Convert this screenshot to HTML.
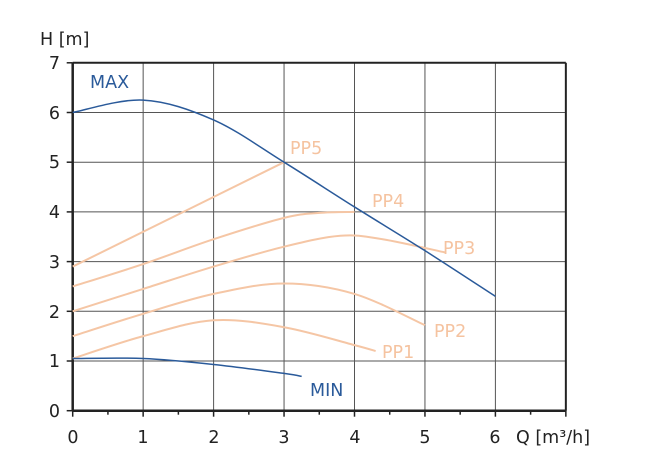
<!DOCTYPE html>
<html><head><meta charset="utf-8"><style>
html,body{margin:0;padding:0;background:#fff;}
svg{display:block;font-family:"DejaVu Sans","Liberation Sans",sans-serif;}
</style></head><body>
<svg id="s" width="654" height="467" viewBox="0 0 654 467">
<g id="grid" stroke="#333" stroke-width="1"></g>
<g id="curves" fill="none"></g>
<g font-size="17.5" fill="#222">
<text x="40" y="45">H [m]</text>
<text x="60" y="69" text-anchor="end">7</text>
<text x="60" y="119" text-anchor="end">6</text>
<text x="60" y="168" text-anchor="end">5</text>
<text x="60" y="218" text-anchor="end">4</text>
<text x="60" y="268" text-anchor="end">3</text>
<text x="60" y="318" text-anchor="end">2</text>
<text x="60" y="367" text-anchor="end">1</text>
<text x="60" y="417" text-anchor="end">0</text>
<text x="73" y="443" text-anchor="middle">0</text>
<text x="143" y="443" text-anchor="middle">1</text>
<text x="214" y="443" text-anchor="middle">2</text>
<text x="284" y="443" text-anchor="middle">3</text>
<text x="355" y="443" text-anchor="middle">4</text>
<text x="425" y="443" text-anchor="middle">5</text>
<text x="495" y="443" text-anchor="middle">6</text>
<text x="516" y="443">Q [m³/h]</text>
</g>
<g font-size="17.5">
<text x="90" y="88" fill="#2a5a9a">MAX</text>
<text x="310" y="396" fill="#2a5a9a">MIN</text>
<text x="290" y="154" fill="#f5c3a0">PP5</text>
<text x="372" y="207" fill="#f5c3a0">PP4</text>
<text x="443" y="254" fill="#f5c3a0">PP3</text>
<text x="434" y="337" fill="#f5c3a0">PP2</text>
<text x="382" y="358" fill="#f5c3a0">PP1</text>
</g>
</svg>
<script>
var X0=72.7,XU=70.45,Y0=410.7,YU=49.7;
function px(x){return X0+x*XU} function py(y){return Y0-y*YU}
var g=document.getElementById('grid'),NS='http://www.w3.org/2000/svg';
function line(x1,y1,x2,y2,w,c){var l=document.createElementNS(NS,'line');l.setAttribute('x1',x1);l.setAttribute('y1',y1);l.setAttribute('x2',x2);l.setAttribute('y2',y2);l.setAttribute('stroke-width',w);if(c)l.setAttribute('stroke',c);g.appendChild(l);}
for(var i=1;i<=6;i++){line(px(i),py(0),px(i),py(7),1,'#555');}
for(var j=1;j<=6;j++){line(px(0),py(j),px(7),py(j),1,'#555');}
line(px(0),py(7),px(7),py(7),2,'#222');
line(px(7),py(0),px(7),py(7),2,'#222');
line(px(0),py(0),px(7),py(0),2.5,'#222');
line(px(0),py(0),px(0),py(7),2.5,'#222');
for(var i=0;i<=14;i++){var x=px(i/2);line(x,py(0),x,py(0)+(i%2?4:6),1.5,'#222');}
for(var j=0;j<=7;j++){var y=py(j);line(px(0)-6,y,px(0),y,1.5,'#222');}
function curve(pts,col,w){
 var p=pts.map(function(a){return [px(a[0]),py(a[1])]});
 var d='M'+p[0][0]+','+p[0][1];
 for(var i=0;i<p.length-1;i++){
  var a=p[i-1]||p[i],b=p[i],c=p[i+1],e=p[i+2]||c;
  var c1=[b[0]+(c[0]-a[0])/6,b[1]+(c[1]-a[1])/6],c2=[c[0]-(e[0]-b[0])/6,c[1]-(e[1]-b[1])/6];
  d+=' C'+c1+' '+c2+' '+c;
 }
 var pa=document.createElementNS(NS,'path');pa.setAttribute('d',d);pa.setAttribute('stroke',col);pa.setAttribute('stroke-width',w);
 document.getElementById('curves').appendChild(pa);
}
var O='#f5c6a5',B='#2a5a9a';
curve([[0,2.9],[3,5]],O,2);
curve([[0,2.5],[1,2.95],[2,3.45],[3,3.88],[3.5,3.98],[4,4.0]],O,2);
curve([[0,2.0],[1,2.45],[2,2.9],[3,3.3],[3.8,3.52],[4.4,3.45],[5.3,3.18]],O,2);
curve([[0,1.5],[1,1.95],[2,2.35],[3,2.56],[4,2.35],[5,1.72]],O,2);
curve([[0,1.05],[1,1.5],[2,1.82],[3,1.68],[4,1.32],[4.3,1.2]],O,2);
curve([[0,6],[1,6.25],[2,5.85],[3,5],[4,4.1],[5,3.22],[6,2.3]],B,1.5);
curve([[0,1.05],[1,1.05],[2,0.93],[3,0.75],[3.25,0.69]],B,1.5);
</script>
</body></html>
